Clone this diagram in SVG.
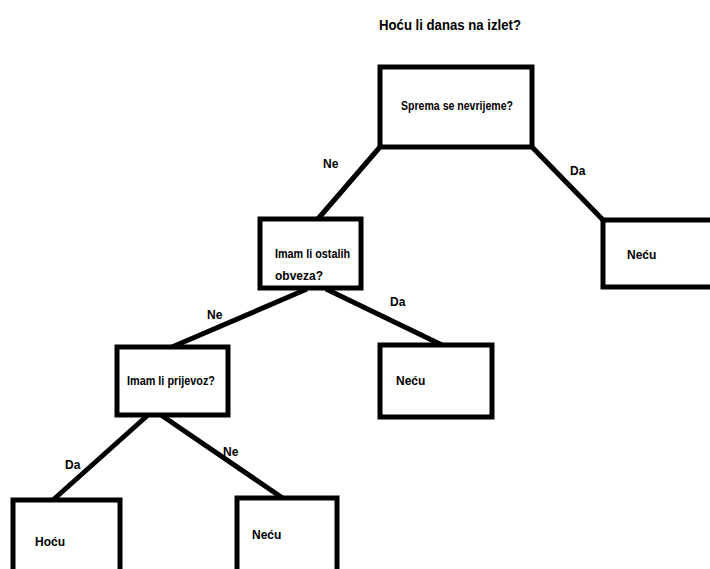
<svg xmlns="http://www.w3.org/2000/svg" width="710" height="569" viewBox="0 0 710 569">
<style>
.box{fill:#fff;stroke:#000;stroke-width:5}
.ln{stroke:#000;stroke-width:5;fill:none}
text{font-family:"Liberation Sans","Open Sans",sans-serif;font-weight:bold;font-size:12px;fill:#000}
.title{font-size:14px}
</style>
<rect width="710" height="569" fill="#fff"/>
<text class="title" x="379" y="30" textLength="142" lengthAdjust="spacingAndGlyphs">Hoću li danas na izlet?</text>
<g id="connectors">
<line class="ln" x1="380" y1="147" x2="317" y2="220"/>
<line class="ln" x1="532" y1="147" x2="604" y2="221"/>
<line class="ln" x1="307" y1="289" x2="172" y2="347"/>
<line class="ln" x1="326" y1="289" x2="442" y2="345"/>
<line class="ln" x1="148" y1="415" x2="53" y2="500"/>
<line class="ln" x1="161" y1="415" x2="284" y2="499"/>
<text x="323" y="168">Ne</text>
<text x="570" y="175">Da</text>
<text x="207" y="319">Ne</text>
<text x="390" y="306">Da</text>
<text x="65" y="469">Da</text>
<text x="223" y="456">Ne</text>
</g>
<g id="n1">
<rect class="box" x="380" y="67" width="152" height="80"/>
<text x="401" y="110" textLength="112" lengthAdjust="spacingAndGlyphs">Sprema se nevrijeme?</text>
</g>
<g id="n2">
<rect class="box" x="260" y="219" width="101" height="69"/>
<text x="275" y="258" textLength="75" lengthAdjust="spacingAndGlyphs">Imam li ostalih</text>
<text x="275" y="280">obveza?</text>
</g>
<g id="n3">
<rect class="box" x="603" y="220" width="110" height="67"/>
<text x="627" y="259">Neću</text>
</g>
<g id="n4">
<rect class="box" x="117" y="347" width="111" height="68"/>
<text x="127" y="385" textLength="88" lengthAdjust="spacingAndGlyphs">Imam li prijevoz?</text>
</g>
<g id="n5">
<rect class="box" x="380" y="345" width="112" height="72"/>
<text x="396" y="385">Neću</text>
</g>
<g id="n6">
<rect class="box" x="13" y="500" width="107" height="80"/>
<text x="35" y="546">Hoću</text>
</g>
<g id="n7">
<rect class="box" x="237" y="498" width="100" height="80"/>
<text x="252" y="539">Neću</text>
</g>
</svg>
